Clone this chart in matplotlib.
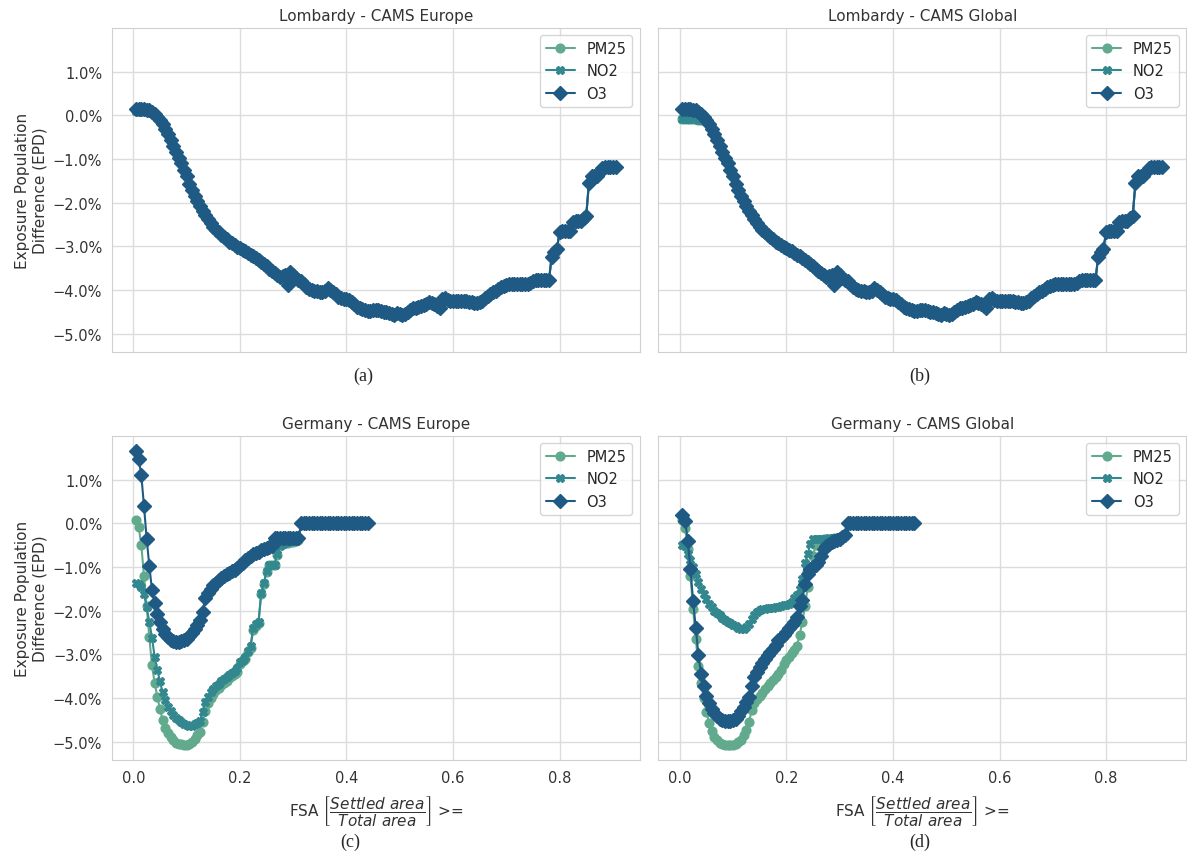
import matplotlib
matplotlib.use("Agg")
import matplotlib.pyplot as plt
import seaborn as sns
from matplotlib.ticker import PercentFormatter

# FSA thresholds
lomb_x = [0.005, 0.010, 0.015, 0.020, 0.025, 0.030, 0.035, 0.040, 0.045, 0.050,
          0.055, 0.060, 0.065, 0.070, 0.075, 0.080, 0.085, 0.090, 0.095, 0.100,
          0.105, 0.110, 0.115, 0.120, 0.125, 0.130, 0.135, 0.140, 0.145, 0.150,
          0.155, 0.160, 0.165, 0.170, 0.175, 0.180, 0.185, 0.190, 0.195, 0.200,
          0.205, 0.210, 0.215, 0.220, 0.225, 0.230, 0.235, 0.240, 0.245, 0.250,
          0.255, 0.260, 0.265, 0.270, 0.275, 0.280, 0.285, 0.290, 0.295, 0.300,
          0.305, 0.310, 0.315, 0.320, 0.325, 0.330, 0.335, 0.340, 0.345, 0.350,
          0.355, 0.360, 0.365, 0.370, 0.375, 0.380, 0.385, 0.390, 0.395, 0.400,
          0.405, 0.410, 0.415, 0.420, 0.425, 0.430, 0.435, 0.440, 0.445, 0.450,
          0.455, 0.460, 0.465, 0.470, 0.475, 0.480, 0.485, 0.490, 0.495, 0.500,
          0.505, 0.510, 0.515, 0.520, 0.525, 0.530, 0.535, 0.540, 0.545, 0.550,
          0.555, 0.560, 0.565, 0.570, 0.575, 0.580, 0.585, 0.590, 0.595, 0.600,
          0.605, 0.610, 0.615, 0.620, 0.625, 0.630, 0.635, 0.640, 0.645, 0.650,
          0.655, 0.660, 0.665, 0.670, 0.675, 0.680, 0.685, 0.690, 0.695, 0.700,
          0.705, 0.710, 0.715, 0.720, 0.725, 0.730, 0.735, 0.740, 0.745, 0.750,
          0.755, 0.760, 0.765, 0.770, 0.775, 0.780, 0.785, 0.790, 0.795, 0.800,
          0.805, 0.810, 0.815, 0.820, 0.825, 0.830, 0.835, 0.840, 0.845, 0.850,
          0.855, 0.860, 0.865, 0.870, 0.875, 0.880, 0.885, 0.890, 0.895, 0.900,
          0.905]
ger_x = lomb_x[:88]  # Germany stops at 0.44

# Lombardy (EPD, %)
lomb_eu_o3 = [0.15, 0.15, 0.15, 0.14, 0.13, 0.11, 0.07, 0.02, -0.04, -0.11,
              -0.20, -0.31, -0.43, -0.56, -0.70, -0.84, -0.97, -1.10, -1.25, -1.40,
              -1.57, -1.71, -1.84, -1.97, -2.08, -2.18, -2.28, -2.38, -2.47, -2.55,
              -2.62, -2.68, -2.74, -2.79, -2.84, -2.89, -2.93, -2.97, -3.01, -3.04,
              -3.08, -3.11, -3.15, -3.19, -3.23, -3.27, -3.31, -3.35, -3.40, -3.45,
              -3.51, -3.57, -3.62, -3.66, -3.69, -3.68, -3.66, -3.88, -3.58, -3.65,
              -3.72, -3.76, -3.80, -3.86, -3.92, -3.97, -4.00, -4.02, -4.03, -4.04,
              -4.05, -4.02, -3.95, -3.99, -4.05, -4.10, -4.15, -4.18, -4.20, -4.21,
              -4.22, -4.27, -4.32, -4.38, -4.42, -4.44, -4.46, -4.47, -4.47, -4.46,
              -4.46, -4.46, -4.47, -4.49, -4.50, -4.52, -4.55, -4.56, -4.53, -4.55,
              -4.58, -4.55, -4.50, -4.45, -4.42, -4.40, -4.38, -4.37, -4.35, -4.31,
              -4.28, -4.29, -4.32, -4.37, -4.42, -4.20, -4.17, -4.22, -4.26, -4.25,
              -4.24, -4.24, -4.25, -4.25, -4.26, -4.27, -4.28, -4.29, -4.29, -4.27,
              -4.24, -4.18, -4.13, -4.09, -4.05, -4.01, -3.97, -3.93, -3.90, -3.88,
              -3.87, -3.86, -3.86, -3.86, -3.86, -3.86, -3.86, -3.85, -3.83, -3.80,
              -3.78, -3.78, -3.78, -3.78, -3.78, -3.78, -3.25, -3.12, -3.05, -2.68,
              -2.65, -2.65, -2.65, -2.65, -2.45, -2.43, -2.42, -2.42, -2.35, -2.30,
              -1.56, -1.40, -1.38, -1.38, -1.30, -1.20, -1.18, -1.18, -1.18, -1.18,
              -1.18]
# PM25 / NO2 sit under the O3 line once the curves merge
lomb_eu_pm25 = [0.10, 0.10, 0.10, 0.10, 0.10, 0.09, 0.06, 0.02] + lomb_eu_o3[8:]
lomb_eu_no2 = [0.10, 0.10, 0.10, 0.10, 0.10, 0.09, 0.06, 0.02] + lomb_eu_o3[8:]

lomb_gl_o3 = list(lomb_eu_o3)
lomb_gl_pm25 = [-0.08, -0.08, -0.08, -0.08, -0.09, -0.09, -0.10, -0.10, -0.10] + lomb_eu_o3[9:]
lomb_gl_no2 = [-0.08, -0.08, -0.08, -0.08, -0.09, -0.09, -0.10, -0.10, -0.10] + lomb_eu_o3[9:]

# Germany (EPD, %)
ger_eu_pm25 = [0.08, -0.08, -0.50, -1.20, -1.90, -2.60, -3.25, -3.65, -3.97, -4.25,
               -4.50, -4.68, -4.80, -4.90, -4.97, -5.02, -5.05, -5.06, -5.07, -5.07,
               -5.05, -5.00, -4.93, -4.85, -4.78, -4.55, -4.30, -4.12, -4.00, -3.90,
               -3.82, -3.76, -3.70, -3.65, -3.60, -3.55, -3.50, -3.45, -3.40, -3.22,
               -3.16, -3.10, -2.95, -2.85, -2.45, -2.35, -2.28, -1.62, -1.38, -1.12,
               -0.96, -0.96, -0.95, -0.72, -0.50, -0.48, -0.46, -0.45, -0.44, -0.42,
               -0.40, -0.38, 0.0, 0.0, 0.0, 0.0, 0.0, 0.0, 0.0, 0.0,
               0.0, 0.0, 0.0, 0.0, 0.0, 0.0, 0.0, 0.0, 0.0, 0.0,
               0.0, 0.0, 0.0, 0.0, 0.0, 0.0, 0.0, 0.0]
ger_eu_no2 = [-1.37, -1.40, -1.47, -1.62, -1.92, -2.25, -2.62, -3.05, -3.35, -3.62,
              -3.87, -4.05, -4.20, -4.30, -4.38, -4.45, -4.50, -4.55, -4.59, -4.62,
              -4.65, -4.64, -4.60, -4.56, -4.52, -4.32, -4.10, -3.97, -3.87, -3.80,
              -3.73, -3.67, -3.62, -3.57, -3.52, -3.47, -3.42, -3.37, -3.32, -3.17,
              -3.12, -3.06, -2.93, -2.80, -2.40, -2.30, -2.25, -1.60, -1.36, -1.10,
              -0.95, -0.95, -0.95, -0.70, -0.52, -0.48, -0.45, -0.43, -0.41, -0.40,
              -0.39, -0.37, 0.0, 0.0, 0.0, 0.0, 0.0, 0.0, 0.0, 0.0,
              0.0, 0.0, 0.0, 0.0, 0.0, 0.0, 0.0, 0.0, 0.0, 0.0,
              0.0, 0.0, 0.0, 0.0, 0.0, 0.0, 0.0, 0.0]
ger_eu_o3 = [1.66, 1.48, 1.10, 0.40, -0.35, -0.97, -1.52, -1.83, -2.08, -2.25,
             -2.42, -2.53, -2.61, -2.66, -2.69, -2.71, -2.71, -2.70, -2.67, -2.64,
             -2.58, -2.50, -2.42, -2.33, -2.22, -2.02, -1.72, -1.60, -1.50, -1.42,
             -1.36, -1.31, -1.26, -1.20, -1.16, -1.13, -1.10, -1.07, -1.02, -0.96,
             -0.90, -0.84, -0.79, -0.75, -0.71, -0.68, -0.65, -0.62, -0.60, -0.57,
             -0.55, -0.53, -0.34, -0.34, -0.34, -0.34, -0.34, -0.34, -0.34, -0.34,
             -0.34, -0.34, 0.0, 0.0, 0.0, 0.0, 0.0, 0.0, 0.0, 0.0,
             0.0, 0.0, 0.0, 0.0, 0.0, 0.0, 0.0, 0.0, 0.0, 0.0,
             0.0, 0.0, 0.0, 0.0, 0.0, 0.0, 0.0, 0.0]

ger_gl_pm25 = [0.08, -0.10, -0.60, -1.20, -1.97, -2.65, -3.27, -3.65, -4.00, -4.32,
               -4.56, -4.76, -4.88, -4.97, -5.03, -5.06, -5.08, -5.08, -5.08, -5.07,
               -5.04, -5.00, -4.95, -4.85, -4.72, -4.55, -4.27, -4.12, -4.03, -3.95,
               -3.88, -3.80, -3.73, -3.65, -3.58, -3.52, -3.45, -3.35, -3.22, -3.12,
               -3.05, -2.98, -2.90, -2.80, -2.55, -2.25, -1.90, -1.45, -1.05, -0.75,
               -0.50, -0.40, -0.38, -0.37, -0.36, -0.35, -0.35, -0.34, -0.33, -0.32,
               -0.30, -0.28, 0.0, 0.0, 0.0, 0.0, 0.0, 0.0, 0.0, 0.0,
               0.0, 0.0, 0.0, 0.0, 0.0, 0.0, 0.0, 0.0, 0.0, 0.0,
               0.0, 0.0, 0.0, 0.0, 0.0, 0.0, 0.0, 0.0]
ger_gl_no2 = [-0.50, -0.52, -0.70, -0.85, -1.00, -1.15, -1.35, -1.50, -1.62, -1.74,
              -1.84, -1.92, -2.00, -2.06, -2.11, -2.16, -2.21, -2.25, -2.29, -2.33,
              -2.36, -2.39, -2.41, -2.41, -2.38, -2.30, -2.20, -2.10, -2.03, -1.99,
              -1.97, -1.96, -1.95, -1.94, -1.93, -1.92, -1.91, -1.90, -1.88, -1.86,
              -1.84, -1.80, -1.72, -1.65, -1.50, -1.28, -0.92, -0.70, -0.48, -0.37,
              -0.36, -0.36, -0.35, -0.35, -0.35, -0.34, -0.34, -0.33, -0.33, -0.32,
              -0.31, -0.30, 0.0, 0.0, 0.0, 0.0, 0.0, 0.0, 0.0, 0.0,
              0.0, 0.0, 0.0, 0.0, 0.0, 0.0, 0.0, 0.0, 0.0, 0.0,
              0.0, 0.0, 0.0, 0.0, 0.0, 0.0, 0.0, 0.0]
ger_gl_o3 = [0.20, 0.05, -0.40, -1.05, -1.78, -2.40, -3.02, -3.45, -3.72, -3.95,
             -4.12, -4.25, -4.35, -4.42, -4.47, -4.50, -4.52, -4.53, -4.52, -4.50,
             -4.47, -4.40, -4.30, -4.20, -4.10, -3.98, -3.72, -3.52, -3.40, -3.30,
             -3.20, -3.10, -3.02, -2.95, -2.87, -2.78, -2.68, -2.62, -2.55, -2.48,
             -2.40, -2.33, -2.25, -2.15, -1.90, -1.75, -1.38, -1.15, -1.05, -1.00,
             -0.95, -0.88, -0.75, -0.58, -0.52, -0.48, -0.44, -0.41, -0.38, -0.35,
             -0.31, -0.27, 0.0, 0.0, 0.0, 0.0, 0.0, 0.0, 0.0, 0.0,
             0.0, 0.0, 0.0, 0.0, 0.0, 0.0, 0.0, 0.0, 0.0, 0.0,
             0.0, 0.0, 0.0, 0.0, 0.0, 0.0, 0.0, 0.0]

titles = ["Lombardy - CAMS Europe", "Lombardy - CAMS Global",
          "Germany - CAMS Europe", "Germany - CAMS Global"]
captions = ["(a)", "(b)", "(c)", "(d)"]
pollutants = ["PM25", "NO2", "O3"]
colors = ["#62aa8e", "#33878f", "#1f5a84"]
markers = ["o", "X", "D"]
msizes = [6.3, 6.0, 7.0]

panels = [
    (lomb_x, [lomb_eu_pm25, lomb_eu_no2, lomb_eu_o3]),
    (lomb_x, [lomb_gl_pm25, lomb_gl_no2, lomb_gl_o3]),
    (ger_x, [ger_eu_pm25, ger_eu_no2, ger_eu_o3]),
    (ger_x, [ger_gl_pm25, ger_gl_no2, ger_gl_o3]),
]

sns.set_style("whitegrid")
plt.rcParams['font.family'] = ['DejaVu Sans']

fig, axes = plt.subplots(2, 2, figsize=(11.87, 8.54), dpi=100, sharex=True, sharey=True)
fig.subplots_adjust(left=112/1187, right=1186/1187, top=1-29/854, bottom=1-761/854,
                    wspace=0.036, hspace=0.259)

for ax, title, (x, series) in zip(axes.flat, titles, panels):
    for name, y, c, m, ms in zip(pollutants, series, colors, markers, msizes):
        ax.plot(x, y, color=c, marker=m, markersize=ms, linewidth=1.5, label=name)
    ax.set_title(title, fontsize=11, color="#333333")
    ax.legend(loc="upper right", fontsize=10.5)
    ax.tick_params(labelsize=10.5, colors="#333333")
    ax.grid(True, color="#dcdcdc", linewidth=1)
    for s in ax.spines.values():
        s.set_color("#d0d0d0")

axes[0, 0].yaxis.set_major_formatter(PercentFormatter(xmax=100, decimals=1))
axes[0, 0].set_yticks([-5, -4, -3, -2, -1, 0, 1])
axes[0, 0].set_xticks([0.0, 0.2, 0.4, 0.6, 0.8])

for ax in axes[:, 0]:
    ax.set_ylabel("Exposure Population\nDifference (EPD)", fontsize=11, color="#333333")
for ax in axes[1, :]:
    ax.set_xlabel(r"FSA $\left[\dfrac{Settled\ area}{Total\ area}\right]$ >=",
                  fontsize=11, color="#333333", labelpad=6)

cap_pos = [(363, 376), (920, 376), (350, 842), (920, 842)]
for cap, (px, py) in zip(captions, cap_pos):
    fig.text(px/1187, 1-py/854, cap, ha="center", va="center",
             family="Liberation Serif", fontsize=13)

plt.savefig("out.png", dpi=100)
